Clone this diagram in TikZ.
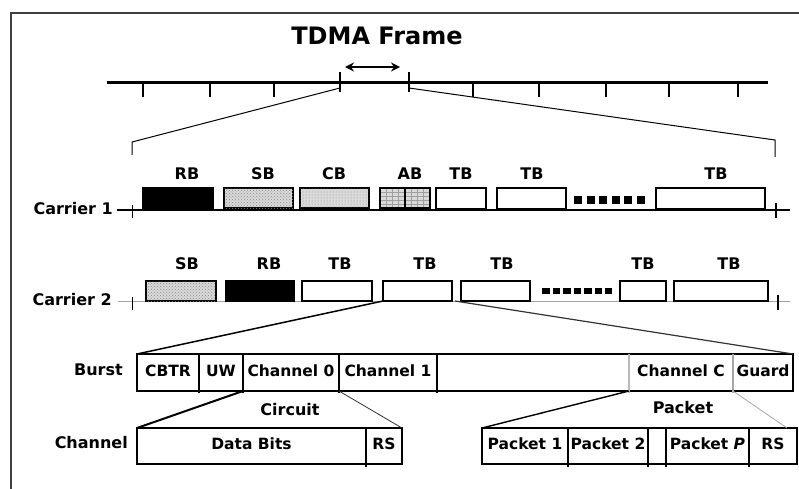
\documentclass[tikz,border=0pt]{standalone}
\usepackage{fontspec}
\setmainfont{DejaVu Sans}
\usetikzlibrary{patterns,arrows.meta}
\newcommand\mkbox[6]{\node[#6, anchor=north west, minimum width={#3pt-#2pt}, minimum height={#5pt-#4pt}] (#1) at (#2,#4) {};}
\newcommand\mkcell[6]{\node[cell, anchor=north west, minimum width={#3pt-#2pt}, minimum height={#5pt-#4pt}] (#1) at (#2,#4) {#6};}
\begin{document}
\begin{tikzpicture}[x=1pt,y=-1pt,
  lbl/.style={font=\bfseries\fontsize{16}{19}\selectfont, inner sep=0pt, text height=0.73em, text depth=0pt},
  ttl/.style={font=\bfseries\fontsize{24}{28}\selectfont, inner sep=0pt, text height=0.73em, text depth=0pt},
  cell/.style={font=\bfseries\fontsize{15.5}{18}\selectfont, inner sep=0pt, outer sep=0pt, text height=0.73em, text depth=0pt},
  blkbox/.style={draw, line width=1.4pt, inner sep=0pt, outer sep=0pt},
  rbblk/.style={blkbox, fill=black},
  tbblk/.style={blkbox, fill=white},
  sbblk/.style={blkbox, fill=gray!30, postaction={pattern=crosshatch dots, pattern color=gray!90}},
  cbblk/.style={blkbox, fill=gray!30, postaction={pattern=dots, pattern color=gray!85}},
  abblk/.style={blkbox, fill=gray!30},
  gridln/.style={line width=0.8pt, gray!75},
  thin/.style={line width=1pt},
  thick2/.style={line width=1.5pt},
  dotrow/.style={line width=8pt, dash pattern=on 8pt off 4.6pt},
  dotrowb/.style={line width=6pt, dash pattern=on 7.5pt off 3pt},
]
\useasboundingbox (0,0) rectangle (799,489);
% frame lines
\draw[line width=2pt, black!75] (799,13) -- (11,13) -- (11,489);

% title and arrow
\node[ttl] (title) at (377,41) {TDMA Frame};
\coordinate (arA) at (345,67);
\coordinate (arB) at (400,67);
\draw[line width=1.5pt, {Stealth[length=9pt,width=9pt]}-{Stealth[length=9pt,width=9pt]}] (arA) -- (arB);

% timeline
\coordinate (tlA) at (107,83);
\coordinate (tlB) at (768,83);
\draw[line width=3pt] (tlA) -- (tlB);
\foreach \x in {143,210,274,473,539,606,669,738} \draw[thick2] (\x,83) -- (\x,97);
\coordinate (fA) at (340,88);
\coordinate (fB) at (409,88);
\draw[thick2] (340,72) -- (340,92);
\draw[thick2] (409,72) -- (409,92);

% zoom lines to carrier 1
\coordinate (zL) at (132,142);
\coordinate (zLb) at (132,155);
\coordinate (zR) at (775,140);
\coordinate (zRb) at (775,157);
\draw[thin] (fA) -- (zL) -- (zLb);
\draw[thin] (fB) -- (zR) -- (zRb);

% carrier 1
\node[lbl, anchor=east] (c1) at (113,211) {Carrier 1};
\coordinate (c1a) at (117,210);
\coordinate (c1b) at (790,210);
\draw[line width=2.8pt] (c1a) -- (c1b);
\draw[thin] (132,205) -- (132,218);
\draw[thick2] (776,203) -- (776,218);
\mkbox{rbA}{143}{213}{188}{209}{rbblk}
\mkbox{sbA}{224}{293}{188}{208}{sbblk}
\mkbox{cbA}{300}{369}{188}{208}{cbblk}
\mkbox{abA}{380}{430}{188}{208}{abblk}
\foreach \y in {192,196,200,204} \draw[gridln] (abA.west |- 0,\y) -- (abA.east |- 0,\y);
\foreach \x in {386,392,398,411,417,423} \draw[gridln] (abA.north -| \x,0) -- (abA.south -| \x,0);
\draw[thick2] (abA.north) -- (abA.south);
\draw[line width=1.4pt] (abA.north west) rectangle (abA.south east);
\mkbox{tbA1}{436}{486}{188}{209}{tbblk}
\mkbox{tbA2}{497}{566}{188}{209}{tbblk}
\mkbox{tbA3}{656}{765}{188}{209}{tbblk}
\coordinate (dA1) at (574,199.5);
\coordinate (dA2) at (645,199.5);
\draw[dotrow] (dA1) -- (dA2);
\node[lbl] (lA1) at (187,176) {RB};
\node[lbl] (lA2) at (263,176) {SB};
\node[lbl] (lA3) at (334,176) {CB};
\node[lbl] (lA4) at (410,176) {AB};
\node[lbl] (lA5) at (461,176) {TB};
\node[lbl] (lA6) at (532,176) {TB};
\node[lbl] (lA7) at (716,176) {TB};

% carrier 2
\node[lbl, anchor=east] (c2) at (112,302) {Carrier 2};
\coordinate (c2a) at (118,301);
\coordinate (c2b) at (790,301);
\draw[line width=1pt, gray!70] (c2a) -- (c2b);
\draw[thin] (132,297) -- (132,310);
\draw[thick2] (778,295) -- (778,310);
\mkbox{sbB}{146}{216}{281}{301}{sbblk}
\mkbox{rbB}{226}{294}{281}{301}{rbblk}
\mkbox{tbB1}{302}{372}{281}{301}{tbblk}
\mkbox{tbB2}{383}{452}{281}{301}{tbblk}
\mkbox{tbB3}{461}{530}{281}{301}{tbblk}
\mkbox{tbB4}{620}{666}{281}{301}{tbblk}
\mkbox{tbB5}{674}{768}{281}{301}{tbblk}
\coordinate (dB1) at (542,291);
\coordinate (dB2) at (612,291);
\draw[dotrowb] (dB1) -- (dB2);
\node[lbl] (lB1) at (187,266) {SB};
\node[lbl] (lB2) at (269,266) {RB};
\node[lbl] (lB3) at (340,266) {TB};
\node[lbl] (lB4) at (425,266) {TB};
\node[lbl] (lB5) at (502,266) {TB};
\node[lbl] (lB6) at (643,266) {TB};
\node[lbl] (lB7) at (729,266) {TB};

% burst row
\node[lbl, anchor=east] (burst) at (123,372) {Burst};
\mkcell{cbtr}{137}{199}{354}{391}{CBTR}
\mkcell{uw}{199}{243}{354}{391}{UW}
\mkcell{chz}{243}{339}{354}{391}{Channel 0}
\mkcell{chone}{339}{437}{354}{391}{Channel 1}
\mkcell{blank}{437}{629}{354}{391}{}
\mkcell{chc}{629}{733}{354}{391}{Channel C}
\mkcell{guard}{733}{793}{354}{391}{Guard}
\draw[line width=1.4pt] (cbtr.north west) rectangle (guard.south east);
\foreach \n in {uw,chz,chone,blank} \draw[line width=1.4pt] (\n.north west) -- ([yshift=-2pt]\n.south west);
\draw[line width=1.2pt, gray!55] (chc.north west) -- ([yshift=-2pt]chc.south west);
\draw[line width=1.2pt, gray!70] (guard.north west) -- ([yshift=-2pt]guard.south west);

% zoom lines carrier 2 -> burst
\draw[thick2] (tbB2.south west) -- (cbtr.north west);
\draw[line width=1.2pt, black!80] ([xshift=3pt]tbB2.south east) -- (guard.north east);

% channel row
\node[lbl] (circ) at (290,412) {Circuit};
\node[lbl, anchor=east] (chan) at (128,445) {Channel};
\mkcell{data}{137}{366}{428}{464}{Data Bits}
\mkcell{rsA}{366}{402}{428}{464}{RS}
\draw[line width=1.4pt] (data.north west) rectangle (rsA.south east);
\draw[line width=1.4pt] (rsA.north west) -- ([yshift=-3pt]rsA.south west);
\draw[line width=2pt] (chz.south west) -- (data.north west);
\draw[line width=0.8pt, black!80] (chone.south west) -- (rsA.north east);

% packet row
\node[lbl] (pkt) at (683,410) {Packet};
\mkcell{pk1}{482}{568}{428}{464}{Packet 1}
\mkcell{pk2}{568}{648}{428}{464}{Packet 2}
\mkcell{pkb}{648}{666}{428}{464}{}
\mkcell{pkp}{666}{749}{428}{464}{Packet \textit{P}}
\mkcell{rsB}{749}{797}{428}{464}{RS}
\draw[line width=1.4pt] (pk1.north west) rectangle (rsB.south east);
\foreach \n in {pk2,pkb,pkp,rsB} \draw[line width=1.4pt] (\n.north west) -- ([yshift=-3pt]\n.south west);
\coordinate (pkR) at (787,428);
\draw[line width=1.4pt] (chc.south west) -- (pk1.north west);
\draw[line width=0.8pt, gray!70] (guard.south west) -- (pkR);
\end{tikzpicture}
\end{document}
